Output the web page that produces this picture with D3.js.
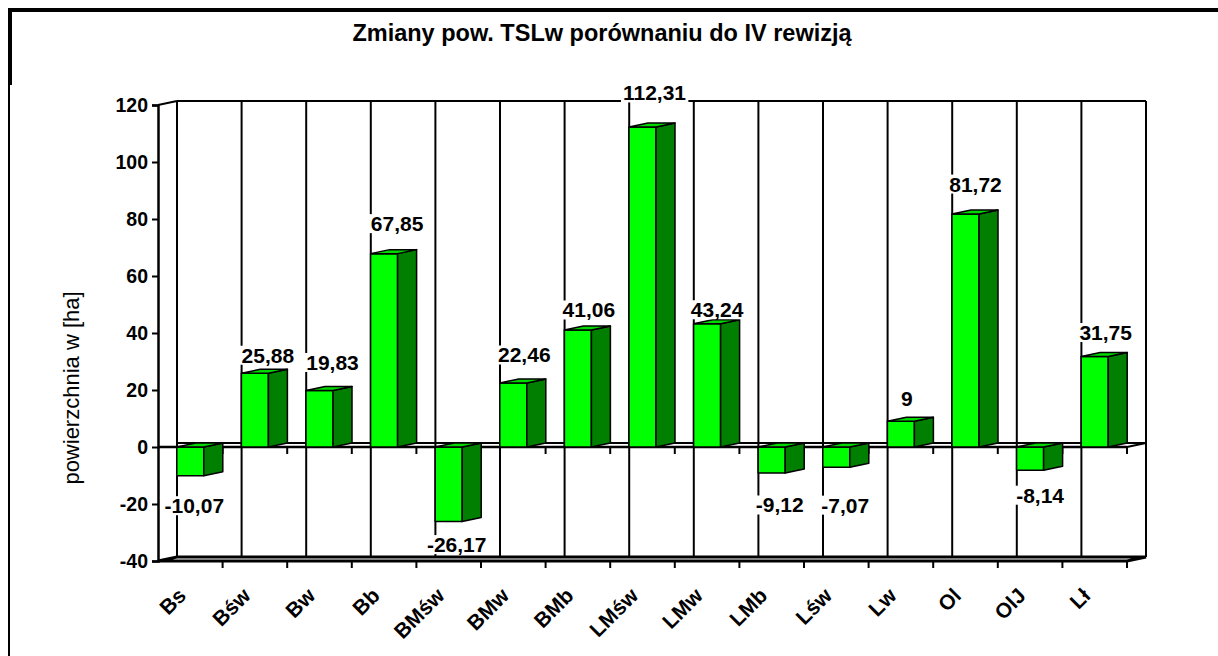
<!DOCTYPE html>
<html>
<head>
<meta charset="utf-8">
<script src="https://cdn.jsdelivr.net/npm/d3@7"></script>
<style>
body { margin: 0; background: #fff; }
text { font-family: "Liberation Sans", Arial, sans-serif; }
</style>
</head>
<body>
<svg id="chart" width="1218" height="656"></svg>
<script>
var categories = ["Bs", "Bśw", "Bw", "Bb", "BMśw", "BMw", "BMb", "LMśw", "LMw", "LMb", "Lśw", "Lw", "Ol", "OlJ", "Lł"];
var values = [-10.07, 25.88, 19.83, 67.85, -26.17, 22.46, 41.06, 112.31, 43.24, -9.12, -7.07, 9, 81.72, -8.14, 31.75];
var yTicks = [-40, -20, 0, 20, 40, 60, 80, 100, 120];
// labels were dragged around by hand in the original, keep the nudges (px)
var labelNudgeX = [-7, 2, 2, 2, -3, 0, 0, 1, -1, -3, -2, -5, -1, -1, 0];
var labelNudgeY = [0, 10, 0, -2, -7, 0, 8, -6, 14, 2, 8, 5, -2, -5, 4];

var svg = d3.select("#chart");
var fmt = function(v) { return String(v).replace(".", ","); };

var x = d3.scaleBand().domain(categories).range([158, 1127]).paddingInner(0).paddingOuter(0);
var y = d3.scaleLinear().domain([-40, 120]).range([561, 105]);
var bw = x.bandwidth();
var dx = 19, dy = -4;          // 3d depth
var barW = 27;
var x0 = x.range()[0], x1 = x.range()[1];
var yTop = y(120), yBot = y(-40), yZero = y(0);

// outer frame
svg.append("line").attr("x1", 10).attr("y1", 10).attr("x2", 1218).attr("y2", 10)
  .attr("stroke", "#000").attr("stroke-width", 4);
svg.append("line").attr("x1", 10).attr("y1", 8).attr("x2", 10).attr("y2", 85)
  .attr("stroke", "#000").attr("stroke-width", 4);
svg.append("line").attr("x1", 9).attr("y1", 85).attr("x2", 9).attr("y2", 656)
  .attr("stroke", "#000").attr("stroke-width", 2);

// title
svg.append("text").attr("x", 602).attr("y", 41).attr("text-anchor", "middle")
  .attr("font-size", 23.5).attr("font-weight", "bold")
  .text("Zmiany pow. TSLw porównaniu do IV rewizją");

var grid = svg.append("g").attr("stroke", "#000").attr("fill", "none");
var bounds = d3.range(categories.length + 1).map(function(i) { return x0 + i * bw; });

// back wall gridlines
grid.selectAll("line.wall").data(bounds).enter().append("line")
  .attr("x1", function(d) { return d + dx; }).attr("x2", function(d) { return d + dx; })
  .attr("y1", yTop + dy).attr("y2", yBot + dy).attr("stroke-width", 2);
grid.append("line").attr("x1", x0 + dx).attr("x2", x1 + dx).attr("y1", yTop + dy).attr("y2", yTop + dy).attr("stroke-width", 2);
grid.append("line").attr("x1", x0).attr("y1", yTop).attr("x2", x0 + dx).attr("y2", yTop + dy).attr("stroke-width", 2);
// floor
grid.append("path").attr("stroke-width", 3)
  .attr("d", "M" + x0 + "," + yBot + "L" + (x0 + dx) + "," + (yBot + dy) + "H" + (x1 + dx) + "L" + x1 + "," + yBot + "Z");
// zero plane, back edge
grid.append("line").attr("x1", x0 + dx).attr("x2", x1 + dx).attr("y1", yZero + dy).attr("y2", yZero + dy).attr("stroke-width", 2);
grid.append("line").attr("x1", x1).attr("y1", yZero).attr("x2", x1 + dx).attr("y2", yZero + dy).attr("stroke-width", 2);

// bars
var bars = svg.append("g").attr("stroke", "#000").attr("stroke-width", 1.5).attr("stroke-linejoin", "round");
categories.forEach(function(c, i) {
  var v = values[i];
  var xa = x(c) + bw / 2 - barW / 2, xb = xa + barW;
  var yv = y(v);
  var yt = Math.min(yv, yZero), yb = Math.max(yv, yZero);
  bars.append("rect").attr("x", xa).attr("y", yt).attr("width", barW).attr("height", yb - yt).attr("fill", "#00ff00");
  bars.append("path").attr("fill", "#007f00")
    .attr("d", "M" + xb + "," + yt + "L" + (xb + dx) + "," + (yt + dy) + "V" + (yb + dy) + "L" + xb + "," + yb + "Z");
  bars.append("path").attr("fill", "#00d800")
    .attr("d", "M" + xa + "," + yt + "L" + (xa + dx) + "," + (yt + dy) + "H" + (xb + dx) + "L" + xb + "," + yt + "Z");
});

// zero line front, ticks
grid.append("line").attr("x1", x0).attr("x2", x1).attr("y1", yZero).attr("y2", yZero).attr("stroke-width", 2.5);
grid.selectAll("line.t0").data(bounds.slice(1)).enter().append("line")
  .attr("x1", function(d) { return d; }).attr("x2", function(d) { return d; })
  .attr("y1", yZero).attr("y2", yZero + 7).attr("stroke-width", 2);
grid.selectAll("line.tb").data(bounds.slice(1)).enter().append("line")
  .attr("x1", function(d) { return d; }).attr("x2", function(d) { return d; })
  .attr("y1", yBot).attr("y2", yBot + 7).attr("stroke-width", 2);

// y axis
var yAxis = svg.append("g").attr("transform", "translate(" + x0 + ",0)")
  .call(d3.axisLeft(y).tickValues(yTicks).tickSize(6).tickPadding(4).tickFormat(function(d) { return String(d); }));
yAxis.select(".domain").attr("stroke-width", 2.5);
yAxis.selectAll(".tick line").attr("stroke-width", 2);
yAxis.selectAll(".tick text").attr("font-size", 19.5).attr("font-weight", "bold")
  .attr("font-family", "Liberation Sans, Arial, sans-serif").attr("fill", "#000");

svg.append("text").attr("transform", "translate(79,388) rotate(-90)")
  .attr("text-anchor", "middle").attr("font-size", 22)
  .text("powierzchnia w [ha]");

// category labels
svg.append("g").selectAll("text").data(categories).enter().append("text")
  .attr("transform", function(d) { return "translate(" + (x(d) + bw / 2 - 3) + "," + 597 + ") rotate(-45)"; })
  .attr("text-anchor", "end")
  .attr("font-size", 21).attr("font-weight", "bold")
  .text(function(d) { return d; });

// data labels with white boxes
var lab = svg.append("g");
categories.forEach(function(c, i) {
  var v = values[i];
  var lx = x(c) + bw / 2 + 11 + labelNudgeX[i];
  var ly = (v >= 0 ? y(v) - 28 : y(v) + 30) + labelNudgeY[i];
  var g = lab.append("g");
  var r = g.append("rect").attr("fill", "#fff");
  var t = g.append("text").attr("x", lx).attr("y", ly).attr("text-anchor", "middle")
    .attr("dominant-baseline", "central").attr("font-size", 21).attr("font-weight", "bold")
    .text(fmt(v));
  var b = t.node().getBBox();
  r.attr("x", b.x - 2).attr("y", b.y + 2).attr("width", b.width + 4).attr("height", b.height - 4);
});
</script>
</body>
</html>
